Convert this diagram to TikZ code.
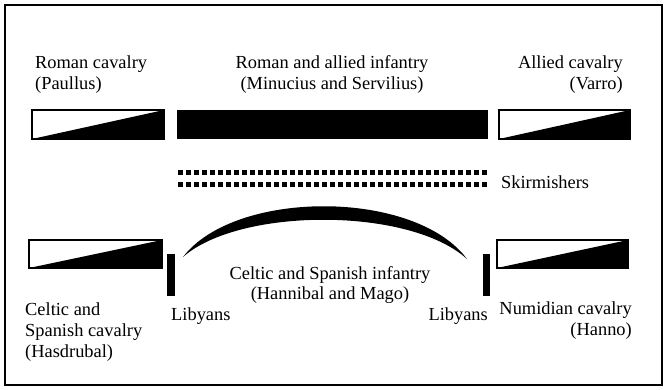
\documentclass[tikz,border=0pt]{standalone}
\usepackage{fontspec}
\setmainfont{Liberation Serif}
\begin{document}
\begin{tikzpicture}[x=1pt,y=-1pt,
  lbl/.style={inner sep=0pt,font=\fontsize{18.4}{20.5}\selectfont},
  cavbox/.style={draw=black,line width=1.4pt,fill=white},
  blk/.style={fill=black}]
\useasboundingbox (0,0) rectangle (665,389);
\fill[white] (0,0) rectangle (665,389);
\draw[line width=1.6pt] (5,5) rectangle (662,385);

% top labels
\node[lbl,anchor=base west] (rc1) at (35,68) {Roman cavalry};
\node[lbl,anchor=base west] (rc2) at (35,89) {(Paullus)};
\node[lbl,anchor=base] (ri1) at (332,68) {Roman and allied infantry};
\node[lbl,anchor=base] (ri2) at (332,89) {(Minucius and Servilius)};
\node[lbl,anchor=base east] (ac1) at (623,68) {Allied cavalry};
\node[lbl,anchor=base east] (ac2) at (623,89) {(Varro)};

% top row units
\draw[cavbox] (32,110) rectangle (164,139);
\fill[blk] (32,139) -- (164,110) -- (164,139) -- cycle;
\fill[blk] (177,110) rectangle (488,139);
\draw[cavbox] (499,110) rectangle (630,139);
\fill[blk] (499,139) -- (630,110) -- (630,139) -- cycle;

% skirmishers
\foreach \i in {0,...,38}{
  \fill[blk] (178+8*\i,169.5) rectangle ++(5,5);
  \fill[blk] (178+8*\i,181.5) rectangle ++(5,5);
}
\node[lbl,anchor=base west] (sk) at (501,188) {Skirmishers};

% bottom row
\draw[cavbox] (29,240) rectangle (162,268);
\fill[blk] (29,268) -- (162,240) -- (162,268) -- cycle;
\draw[cavbox] (497,240) rectangle (628,268);
\fill[blk] (497,268) -- (628,240) -- (628,268) -- cycle;
\fill[blk] (167,254) rectangle (175,296);
\fill[blk] (483,254) rectangle (490,296);
\fill[blk] (183,257) .. controls (235,189) and (415,189) .. (467,259)
  .. controls (410,207) and (240,207) .. (183,257) -- cycle;

\node[lbl,anchor=base] (ci1) at (330,279) {Celtic and Spanish infantry};
\node[lbl,anchor=base] (ci2) at (330,299) {(Hannibal and Mago)};
\node[lbl,anchor=base west] (lb1) at (171,320) {Libyans};
\node[lbl,anchor=base east] (lb2) at (488,320) {Libyans};
\node[lbl,anchor=base west] (cs1) at (25,315) {Celtic and};
\node[lbl,anchor=base west] (cs2) at (25,336) {Spanish cavalry};
\node[lbl,anchor=base west] (cs3) at (25,357) {(Hasdrubal)};
\node[lbl,anchor=base east] (nc1) at (632,314) {Numidian cavalry};
\node[lbl,anchor=base east] (nc2) at (632,335) {(Hanno)};
\end{tikzpicture}
\end{document}
